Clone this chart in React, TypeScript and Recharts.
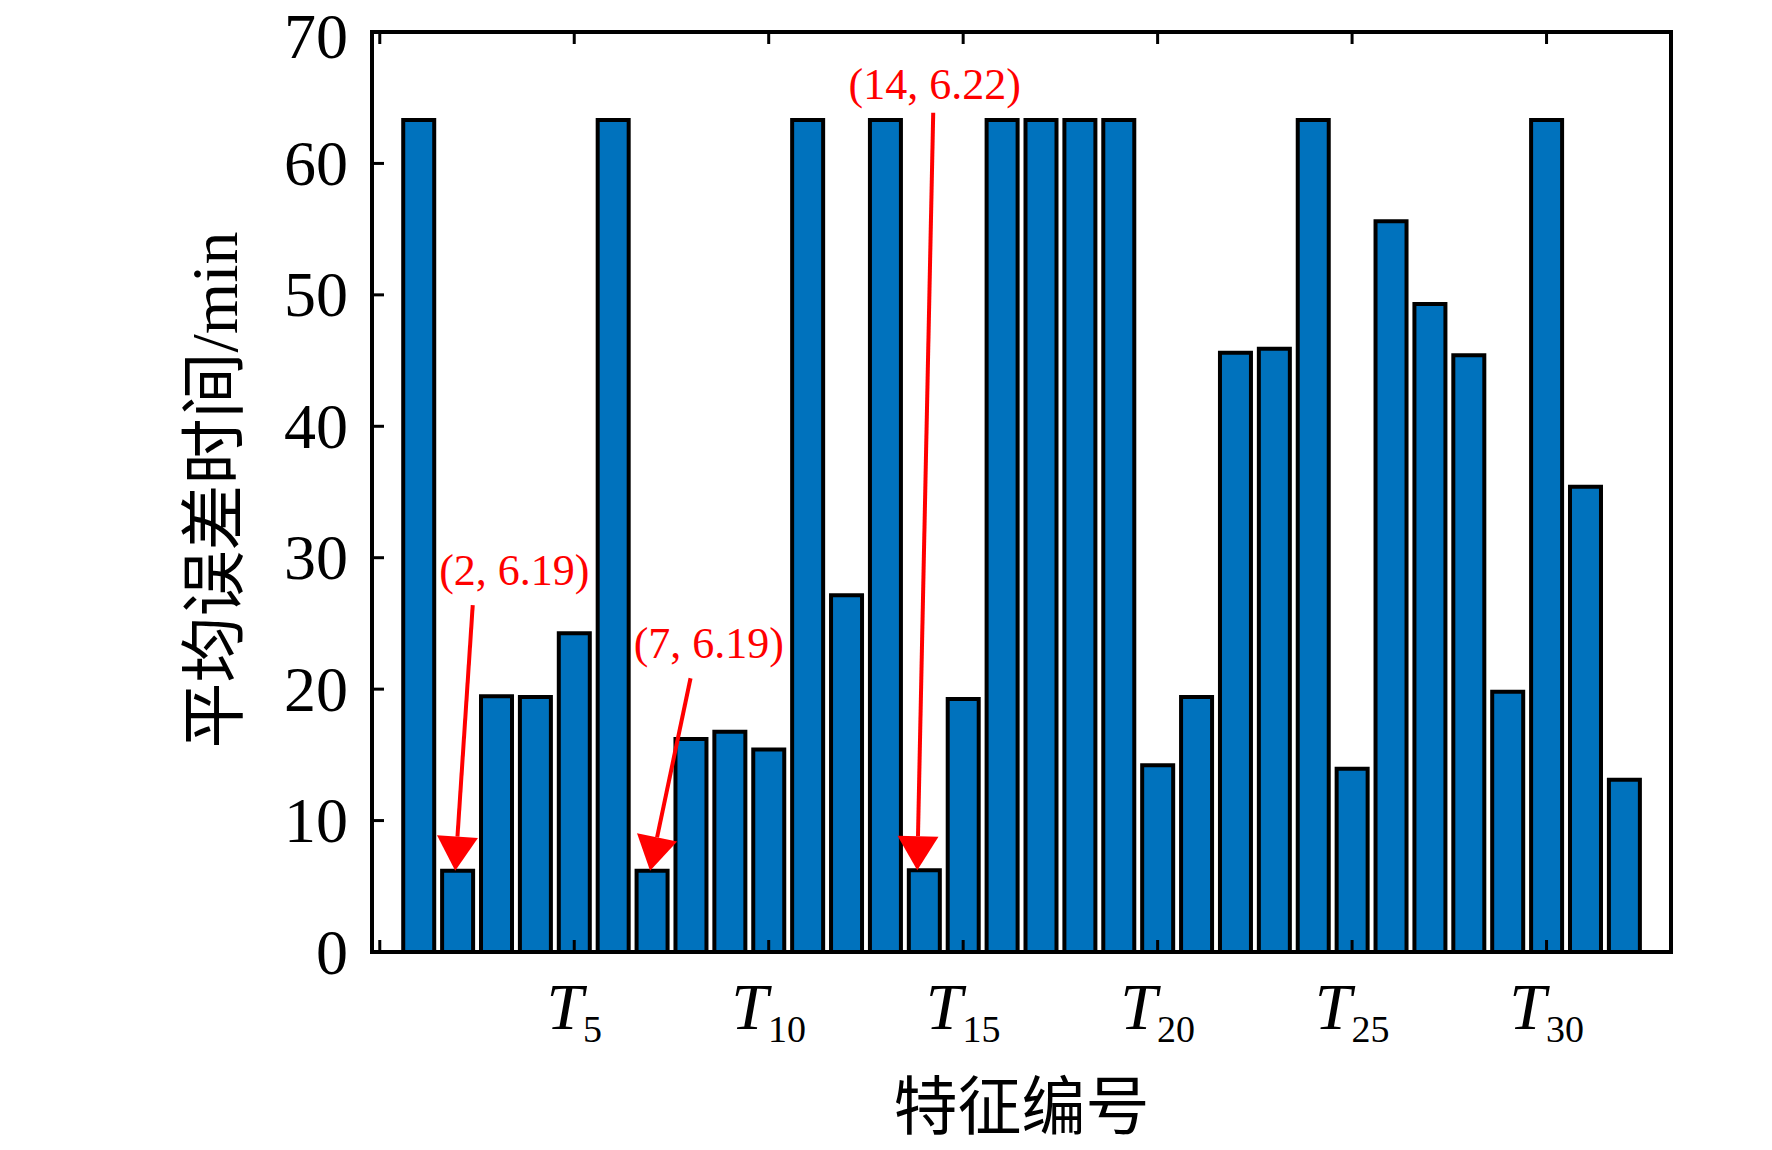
import React from 'react';
import { BarChart, Bar, XAxis, YAxis, ReferenceLine, ReferenceDot } from 'recharts';

// Mean error time (min) per feature T1..T32
const featureIds = [
  1, 2, 3, 4, 5, 6, 7, 8, 9, 10, 11, 12, 13, 14, 15, 16,
  17, 18, 19, 20, 21, 22, 23, 24, 25, 26, 27, 28, 29, 30, 31, 32,
];
const meanErrorMin = [
  63.3, 6.19, 19.45, 19.4, 24.25, 63.3, 6.19, 16.2, 16.75, 15.4, 63.3, 27.15, 63.3, 6.22, 19.25, 63.3,
  63.3, 63.3, 63.3, 14.2, 19.4, 45.6, 45.9, 63.3, 13.95, 55.6, 49.3, 45.4, 19.8, 63.3, 35.4, 13.1,
];
const xTicks = [0, 5, 10, 15, 20, 25, 30];
const yTicks = [0, 10, 20, 30, 40, 50, 60, 70];

// highlighted minima
const markedIds = [2, 7, 14];
const markedValues = [6.19, 6.19, 6.22];
const markedLabels = ['(2, 6.19)', '(7, 6.19)', '(14, 6.22)'];

// where each annotation sits (data units): arrow tail, label anchor, small tip shift
const arrowTails = [
  { x: 2.39, y: 26.4 },
  { x: 7.99, y: 20.83 },
  { x: 14.23, y: 63.86 },
];
const labelAnchors = [
  { x: 3.46, y: 27.92 },
  { x: 8.46, y: 22.35 },
  { x: 14.27, y: 64.88 },
];
const tipShift = [-0.06, -0.05, -0.18];

const SERIF = "'Liberation Serif', 'Times New Roman', 'Noto Sans CJK SC', serif";
const BAR_BLUE = '#0072BD';
const RED = '#FF0000';

const chartData = featureIds.map((id, i) => ({ id, value: meanErrorMin[i] }));

function LeftTick({ x, y, payload }: any) {
  // keep the top label's text box inside the page
  const ty = Math.max(y, 36);
  return (
    <g>
      <line x1={x} y1={y} x2={x + 12} y2={y} stroke="#000" strokeWidth={3} />
      <text x={x - 24} y={ty} textAnchor="end" dominantBaseline="central" fontFamily={SERIF} fontSize={64} fill="#000">
        {payload.value}
      </text>
    </g>
  );
}

function RightTick({ x, y }: any) {
  return <line x1={x} y1={y} x2={x - 12} y2={y} stroke="#000" strokeWidth={3} />;
}

function TopTick({ x, y }: any) {
  return <line x1={x} y1={y} x2={x} y2={y + 12} stroke="#000" strokeWidth={3} />;
}

function BottomTick({ x, y, payload }: any) {
  const v = payload.value;
  return (
    <g>
      <line x1={x} y1={y} x2={x} y2={y - 12} stroke="#000" strokeWidth={3} />
      {v !== 0 && (
        <text x={x} y={y + 77} textAnchor="middle" fontFamily={SERIF} fill="#000">
          <tspan fontStyle="italic" fontSize={66}>T</tspan>
          <tspan fontSize={38} dy={13}>{v}</tspan>
        </text>
      )}
    </g>
  );
}

function XTitle({ viewBox }: any) {
  const { x, y, width } = viewBox;
  return (
    <text x={x + width / 2} y={y + 155} textAnchor="middle" dominantBaseline="central" fontFamily={SERIF} fontSize={64} fill="#000">
      特征编号
    </text>
  );
}

function YTitle({ viewBox }: any) {
  const { x, y, height } = viewBox;
  const cx = x + 206;
  const cy = y + height / 2 - 2;
  return (
    <text x={cx} y={cy} transform={`rotate(-90 ${cx} ${cy})`} textAnchor="middle" dominantBaseline="central" fontFamily={SERIF} fontSize={66} fill="#000">
      平均误差时间/min
    </text>
  );
}

// arrow from tail (x1,y1) to tip (x2,y2) with a filled triangular head
function Arrow(props: any) {
  const { x1, y1, x2, y2 } = props;
  const dx = x2 - x1;
  const dy = y2 - y1;
  const len = Math.hypot(dx, dy) || 1;
  const ux = dx / len;
  const uy = dy / len;
  const headLen = 34;
  const half = 20.5;
  const bx = x2 - ux * headLen;
  const by = y2 - uy * headLen;
  const pts = `${x2},${y2} ${bx - uy * half},${by + ux * half} ${bx + uy * half},${by - ux * half}`;
  return (
    <g>
      <line x1={x1} y1={y1} x2={bx} y2={by} stroke={RED} strokeWidth={4} />
      <polygon points={pts} fill={RED} />
    </g>
  );
}

function makeLabel(text: string) {
  return (p: any) => (
    <text x={p.cx} y={p.cy} textAnchor="middle" fontFamily={SERIF} fontSize={44} fill={RED}>
      {text}
    </text>
  );
}

export default function App() {
  return (
    <div style={{ width: 1756, height: 1142, marginTop: -8, background: '#fff' }}>
      <BarChart
        width={1756}
        height={1142}
        data={chartData}
        margin={{ top: 0, right: 0, left: 0, bottom: 0 }}
        style={{ overflow: 'visible' }}
      >
        <XAxis
          dataKey="id"
          type="number"
          domain={[-0.2, 33.2]}
          ticks={xTicks}
          interval={0}
          height={190}
          tickSize={0}
          tickMargin={0}
          tickLine={false}
          axisLine={{ stroke: '#000', strokeWidth: 4, strokeLinecap: 'square' }}
          tick={<BottomTick />}
          label={<XTitle />}
        />
        <XAxis
          xAxisId="top"
          orientation="top"
          dataKey="id"
          type="number"
          domain={[-0.2, 33.2]}
          ticks={xTicks}
          interval={0}
          height={32}
          tickSize={0}
          tickMargin={0}
          tickLine={false}
          axisLine={{ stroke: '#000', strokeWidth: 4, strokeLinecap: 'square' }}
          tick={<TopTick />}
        />
        <YAxis
          domain={[0, 70]}
          ticks={yTicks}
          interval={0}
          width={364}
          tickSize={0}
          tickMargin={0}
          tickLine={false}
          axisLine={{ stroke: '#000', strokeWidth: 4, strokeLinecap: 'square' }}
          tick={<LeftTick />}
          label={<YTitle />}
        />
        <YAxis
          yAxisId="r"
          orientation="right"
          domain={[0, 70]}
          ticks={yTicks}
          interval={0}
          width={93}
          tickSize={0}
          tickMargin={0}
          tickLine={false}
          axisLine={{ stroke: '#000', strokeWidth: 4, strokeLinecap: 'square' }}
          tick={<RightTick />}
        />
        <Bar
          dataKey="value"
          fill={BAR_BLUE}
          stroke="#000"
          strokeWidth={4}
          barSize={31}
          isAnimationActive={false}
        />
        {markedIds.map((id, i) => (
          <ReferenceLine
            key={`arrow-${id}`}
            segment={[
              { x: arrowTails[i].x, y: arrowTails[i].y },
              { x: id + tipShift[i], y: markedValues[i] },
            ]}
            ifOverflow="visible"
            shape={Arrow}
          />
        ))}
        {markedIds.map((id, i) => (
          <ReferenceDot
            key={`label-${id}`}
            x={labelAnchors[i].x}
            y={labelAnchors[i].y}
            r={0}
            ifOverflow="visible"
            shape={makeLabel(markedLabels[i])}
          />
        ))}
      </BarChart>
    </div>
  );
}
